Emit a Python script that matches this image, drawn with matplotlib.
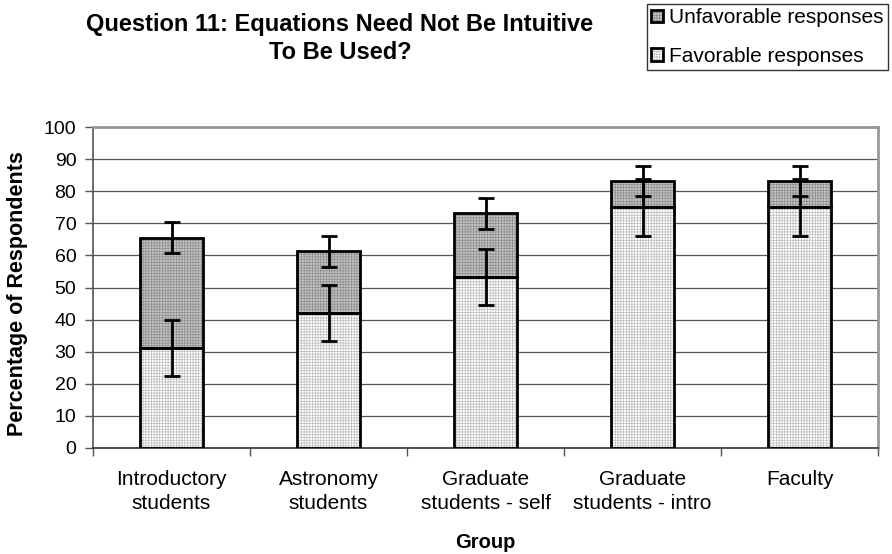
import matplotlib
matplotlib.use("Agg")
import matplotlib.pyplot as plt
from matplotlib.patches import Patch
from matplotlib.legend_handler import HandlerTuple
import numpy as np

plt.rcParams['font.family'] = ['Liberation Sans', 'DejaVu Sans']
plt.rcParams['hatch.linewidth'] = 0.5

groups = ["Introductory\nstudents", "Astronomy\nstudents", "Graduate\nstudents - self",
          "Graduate\nstudents - intro", "Faculty"]
favorable = [31.25, 42.0, 53.3, 75.0, 75.0]
unfavorable = [34.35, 19.3, 19.9, 8.3, 8.3]
favorable_err = [8.75, 8.75, 8.7, 8.8, 8.8]
unfavorable_err = [4.9, 4.8, 4.85, 4.8, 4.8]

title = "Question 11: Equations Need Not Be Intuitive\nTo Be Used?"
ylabel = "Percentage of Respondents"
xlabel = "Group"
legend_labels = ["Unfavorable responses", "Favorable responses"]

fav_face, fav_hatch = "#ffffff", "#bcbcbc"
unf_face, unf_hatch = "#c4c4c4", "#8c8c8c"

fig = plt.figure(figsize=(8.92, 5.54), dpi=100)
ax = fig.add_axes([93 / 892, (554 - 447.5) / 554, 785 / 892, 320 / 554])

x = np.arange(len(groups))
fav = np.array(favorable)
unf = np.array(unfavorable)
w = 0.4

ax.bar(x, fav, w, color=fav_face, edgecolor=fav_hatch, hatch='++++++', linewidth=0, zorder=2)
ax.bar(x, unf, w, bottom=fav, color=unf_face, edgecolor=unf_hatch, hatch='++++++', linewidth=0, zorder=2)
ax.bar(x, fav, w, facecolor='none', edgecolor='black', linewidth=2.0, zorder=3)
ax.bar(x, unf, w, bottom=fav, facecolor='none', edgecolor='black', linewidth=2.0, zorder=3)

ax.errorbar(x, fav, yerr=favorable_err, fmt='none', ecolor='black', elinewidth=2.0,
            capsize=5.5, capthick=2.0, zorder=4)
ax.errorbar(x, fav + unf, yerr=unfavorable_err, fmt='none', ecolor='black', elinewidth=2.0,
            capsize=5.5, capthick=2.0, zorder=4)

ax.set_xlim(-0.5, len(groups) - 0.5)
ax.set_ylim(0, 100)
ax.set_yticks(np.arange(0, 101, 10))
ax.yaxis.grid(True, color='#555555', linewidth=0.9, zorder=0)
ax.set_axisbelow(True)

ax.set_xticks(x)
ax.set_xticklabels(groups, fontsize=15, linespacing=1.38)
ax.set_xticks(np.arange(-0.5, len(groups)), minor=True)
ax.tick_params(axis='x', which='major', length=0, pad=16)
ax.tick_params(axis='x', which='minor', length=6, width=1, color='#555555', direction='out')
ax.tick_params(axis='y', labelsize=14, length=6, width=1, color='#555555', direction='out', pad=6)

for s in ['top', 'right']:
    ax.spines[s].set_color('#999999')
    ax.spines[s].set_linewidth(2)
ax.spines['left'].set_color('#555555')
ax.spines['left'].set_linewidth(1.2)
ax.spines['bottom'].set_color('#333333')
ax.spines['bottom'].set_linewidth(1.2)

fig.text(340 / 892, 1 - 38.5 / 554, title, ha='center', va='center', fontsize=17,
         fontweight='bold', linespacing=1.25)
fig.text(18 / 892, 1 - 294 / 554, ylabel, ha='center', va='center', rotation=90,
         fontsize=15.5, fontweight='bold')
fig.text(485 / 892, 1 - 543 / 554, xlabel, ha='center', va='center', fontsize=14.5,
         fontweight='bold')

handles = [
    (Patch(facecolor=unf_face, edgecolor=unf_hatch, hatch='++++++', linewidth=0),
     Patch(facecolor='none', edgecolor='black', linewidth=2)),
    (Patch(facecolor=fav_face, edgecolor=fav_hatch, hatch='++++++', linewidth=0),
     Patch(facecolor='none', edgecolor='black', linewidth=2)),
]
leg = fig.legend(handles, legend_labels, loc='upper left',
                 bbox_to_anchor=(647 / 892, 1 - 4 / 554), bbox_transform=fig.transFigure,
                 handler_map={tuple: HandlerTuple(ndivide=1, pad=0)},
                 fontsize=15, frameon=True, fancybox=False, edgecolor='black',
                 handlelength=0.55, handleheight=0.55, handletextpad=0.3,
                 borderpad=0.2, labelspacing=0.95, borderaxespad=0)
leg.get_frame().set_linewidth(1.0)

fig.savefig("out.png", dpi=100)
